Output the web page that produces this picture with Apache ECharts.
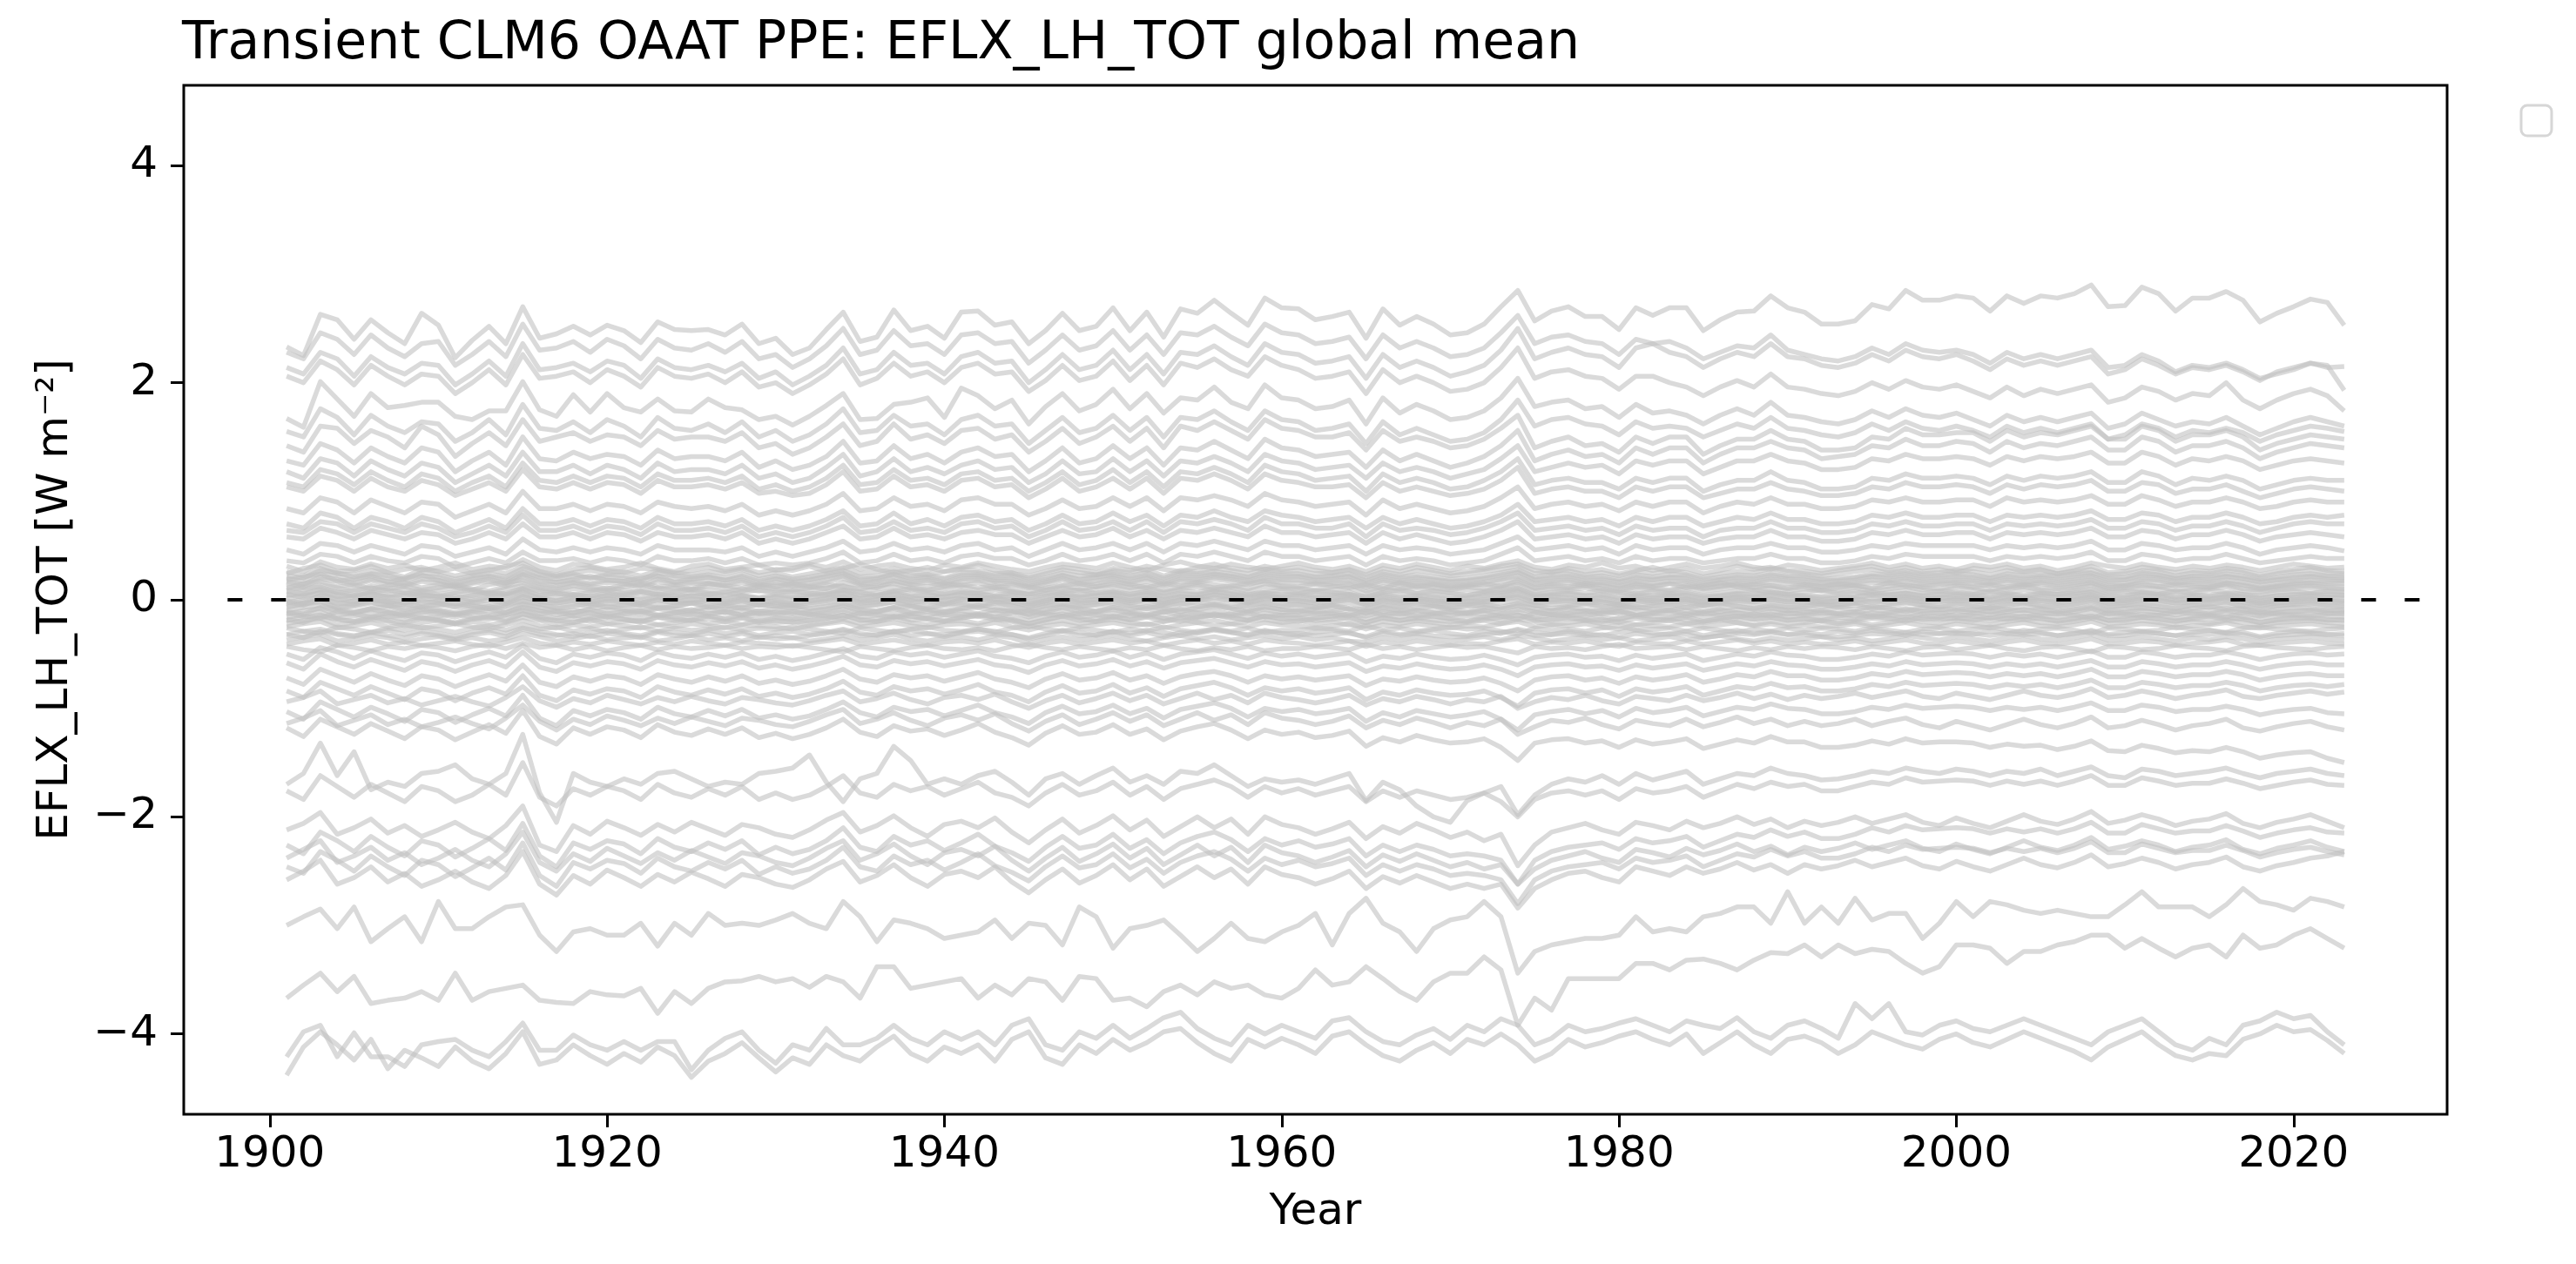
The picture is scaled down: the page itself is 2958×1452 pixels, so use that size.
<!DOCTYPE html>
<html>
<head>
<meta charset="utf-8">
<title>EFLX_LH_TOT global mean</title>
<script src="https://cdn.jsdelivr.net/npm/echarts@6/dist/echarts.min.js"></script>
<style>
html, body { margin: 0; padding: 0; background: #fff; }
#chart { width: 2958px; height: 1452px; }
</style>
</head>
<body>
<div id="chart"></div>
<script>
// ---- data -------------------------------------------------------------
// years of the transient run
var firstYear = 1901, lastYear = 2023;
var years = [];
for (var yr = firstYear; yr <= lastYear; yr++) years.push(yr);

var xTicks = [1900, 1920, 1940, 1960, 1980, 2000, 2020];
var yTicks = [-4, -2, 0, 2, 4];
var zeroLineYears = [1897.5, 2027.5];

// ensemble members, anomaly vs default, in 0.01 W m-2 (rows: 1901-30, 1931-60, 1961-90, 1991-2023)
// members above the central band
var u01 = [
233,225,263,258,240,258,246,236,264,253,223,239,252,236,270,241,245,252,244,253,248,237,256,249,248,249,244,254,236,241,
226,232,249,265,238,242,267,248,252,241,265,266,253,256,236,248,264,248,252,269,248,265,242,268,264,276,264,253,278,269,
268,258,261,265,241,268,253,261,254,244,246,254,270,285,257,266,270,261,261,249,269,262,269,269,248,258,265,266,280,269,
265,254,254,257,272,268,285,276,276,280,278,266,280,273,280,278,282,290,270,271,288,282,266,278,278,284,276,256,264,270,277,274,253];
var u02 = [
228,222,246,240,226,244,232,224,236,238,216,226,238,224,254,230,232,238,228,240,234,222,240,232,230,236,228,238,222,226,
214,222,234,250,226,230,248,234,236,226,244,246,236,238,218,230,244,230,234,248,230,244,226,246,244,252,242,234,254,246,
244,236,238,242,222,244,232,238,232,224,226,232,246,262,236,242,244,238,236,226,240,236,238,232,222,228,234,232,244,230,
226,222,220,224,232,226,236,230,228,230,226,218,228,222,226,222,226,230,214,216,226,220,210,216,214,218,212,204,208,212,218,214,215];
var u03 = [
214,208,228,222,206,224,214,208,218,216,198,208,220,206,236,212,214,218,210,220,216,204,222,214,212,216,210,218,204,210,
198,206,216,232,208,212,228,216,218,208,224,228,218,220,200,212,226,212,216,230,212,226,208,228,226,234,224,216,236,228,
226,218,220,224,204,226,214,220,214,206,210,216,230,250,222,228,232,226,224,214,232,236,228,224,214,222,228,224,236,224,
222,216,214,218,226,220,230,224,222,226,220,212,222,216,220,216,220,224,208,212,222,216,208,214,212,216,210,202,210,214,218,216,193];
var u04 = [
206,200,220,212,198,216,206,198,208,206,190,200,212,198,226,204,206,210,200,212,206,196,214,206,204,208,200,210,196,200,
190,198,208,222,198,204,218,206,210,200,214,218,208,210,192,202,216,202,206,220,202,216,198,218,214,222,212,206,224,216,
212,204,206,210,190,212,200,206,200,192,194,200,214,232,204,210,212,206,204,194,206,206,200,196,188,196,202,196,208,196,
194,190,188,192,200,194,202,196,194,198,192,186,196,188,194,190,194,198,182,186,196,192,184,190,188,200,184,176,184,190,194,188,174];
var u05 = [
167,159,201,185,169,190,177,179,182,182,169,166,174,174,201,175,169,189,173,190,177,173,185,174,173,185,177,175,166,169,
161,169,179,190,166,167,180,182,186,168,195,188,176,184,162,178,190,174,180,194,176,190,172,186,184,196,182,176,198,186,
184,176,178,184,162,186,172,180,174,166,168,174,186,204,178,182,184,176,178,168,180,172,174,170,162,170,176,170,182,170,
168,164,162,166,174,168,176,170,168,172,166,160,170,164,168,164,168,172,158,162,172,166,160,164,162,168,160,152,158,164,168,164,160];
var u06 = [
155,150,176,168,152,170,160,154,164,162,146,154,166,152,180,158,156,164,154,166,160,150,168,158,156,162,154,164,150,156,
146,152,162,176,154,156,170,160,162,152,166,170,160,162,144,156,168,154,158,170,156,168,150,168,166,174,164,156,174,166,
164,156,158,162,144,164,152,158,152,146,148,154,166,184,160,166,168,162,160,152,164,158,160,158,150,156,162,158,168,158,
156,152,150,154,162,156,164,158,156,160,156,150,160,154,158,154,158,162,148,152,162,158,150,156,154,158,154,146,152,156,160,158,155];
var u07 = [
142,136,160,158,144,156,150,140,160,152,132,144,154,142,166,146,150,154,146,152,150,142,156,148,150,150,146,154,140,144,
134,140,150,162,142,146,162,148,152,144,156,158,148,152,136,146,158,144,150,160,146,158,140,160,156,164,156,148,166,158,
156,150,150,154,138,156,146,150,146,140,142,148,158,170,140,146,150,142,144,136,150,144,150,150,134,142,148,148,156,148,
146,138,138,140,150,148,158,152,152,154,154,146,156,150,154,152,156,160,148,148,160,156,146,152,152,156,150,138,144,148,152,150,148];
var u08 = [
128,124,144,138,126,140,132,126,140,136,118,128,136,124,150,130,128,136,130,134,132,124,138,130,132,132,128,136,122,128,
120,124,132,146,126,128,142,130,134,126,136,140,132,134,118,128,140,126,130,142,130,140,124,140,138,146,138,130,148,140,
138,132,134,136,122,138,128,134,128,122,126,132,142,156,128,134,138,132,134,126,140,134,140,140,126,134,140,140,146,140,
138,130,132,134,142,140,148,142,142,146,144,136,146,140,144,142,146,150,138,138,150,146,136,142,142,146,140,130,136,140,144,142,140];
var u09 = [
118,112,130,126,114,128,120,114,126,122,108,116,124,114,136,118,118,124,116,124,120,112,126,118,120,120,116,124,112,116,
108,112,122,134,114,118,130,118,122,116,124,128,120,122,108,116,128,116,118,130,118,128,114,128,126,132,126,118,134,128,
126,120,122,124,112,126,118,122,118,112,116,120,130,142,118,122,126,122,124,116,128,124,128,128,116,122,128,128,134,128,
126,120,120,122,130,128,134,130,130,132,130,124,132,128,132,130,132,136,126,126,136,132,124,130,128,132,128,120,124,128,130,128,126];
var u10 = [
108,104,120,116,106,118,110,104,116,112,100,108,114,104,126,110,108,114,108,114,112,104,116,110,110,112,108,114,102,106,
100,104,112,124,106,108,120,110,112,106,116,118,110,112,100,108,118,106,110,120,108,118,104,118,116,122,116,108,124,118,
116,110,112,114,100,116,108,112,108,102,104,110,118,130,106,110,112,108,108,102,112,108,112,112,100,106,110,110,118,110,
108,102,102,104,112,110,116,112,112,114,112,106,114,110,114,112,114,118,108,108,118,114,106,112,110,114,110,102,106,110,112,110,110];
var u11 = [
104,100,114,110,100,112,104,100,110,106,96,102,108,100,120,104,102,108,102,108,106,98,110,104,104,106,102,108,98,100,
96,98,106,118,100,102,114,104,106,100,110,112,104,106,94,102,112,100,104,112,102,112,98,112,110,116,110,102,116,110,
108,104,104,106,94,108,100,104,100,96,98,102,110,122,98,102,104,100,100,94,104,100,104,104,94,98,102,102,108,102,
100,96,96,98,104,102,108,104,104,106,104,98,106,102,106,104,106,110,100,100,108,106,98,102,102,106,100,94,98,102,104,102,100];
var u12 = [
84,80,94,90,80,92,86,80,90,88,76,82,88,80,100,84,84,88,82,88,86,80,90,86,84,86,82,88,78,82,
78,82,88,98,82,84,94,86,88,82,92,94,88,88,78,84,92,84,86,94,86,94,82,94,92,96,92,86,98,92,
90,86,88,90,78,92,84,88,84,80,82,86,94,104,84,88,90,86,88,82,90,86,90,90,80,86,90,88,94,88,
88,84,84,86,92,90,94,90,90,92,92,86,94,90,92,90,92,96,88,88,96,92,86,90,90,94,90,84,86,90,92,90,90];
var u13 = [
70,66,80,76,66,76,72,66,76,72,62,68,74,66,84,70,70,74,68,74,72,66,76,70,70,72,68,74,64,68,
64,68,74,82,68,70,80,70,74,68,76,78,72,74,64,70,78,70,72,80,72,78,68,78,76,82,76,72,82,78,
76,72,74,76,66,76,70,74,70,66,68,72,78,88,72,74,76,72,74,68,76,72,76,76,68,72,76,74,80,74,
74,70,70,72,78,76,80,76,76,78,78,72,78,76,78,76,78,82,74,74,80,78,72,76,76,80,76,70,72,76,78,76,78];
var u14 = [
64,62,72,70,62,70,66,62,70,66,58,62,68,62,78,64,64,68,62,68,66,60,70,64,64,66,62,68,58,62,
58,62,68,76,62,64,72,64,66,62,70,72,66,68,58,64,72,64,66,72,64,72,62,72,70,74,70,64,76,70,
70,66,66,70,58,70,64,66,64,60,62,66,72,80,64,66,68,64,66,60,68,64,66,66,58,64,66,66,72,66,
66,62,62,64,70,68,72,68,68,70,70,64,70,68,70,68,70,74,66,66,72,70,64,68,68,72,68,62,66,70,72,70,70];
var u15 = [
58,56,66,62,56,64,60,56,62,60,52,56,62,56,70,58,58,62,56,62,60,54,62,58,58,60,56,62,52,56,
52,56,62,68,56,58,66,58,60,56,62,64,60,60,52,58,64,58,60,66,58,64,56,64,62,66,62,58,68,62,
62,58,60,62,52,62,56,60,56,52,54,58,64,72,56,58,60,56,58,52,60,56,58,58,52,56,58,58,64,58,
58,54,54,56,62,60,64,60,60,62,62,56,62,60,62,60,62,66,58,58,64,62,56,60,60,64,60,54,58,60,62,60,58];
var u16 = [
46,42,52,50,44,50,46,42,50,48,40,44,48,42,56,46,44,48,44,48,46,42,50,46,46,46,44,48,40,44,
40,44,48,54,44,46,52,46,48,44,50,52,46,48,40,46,52,46,48,52,46,52,44,52,50,54,50,46,54,50,
50,46,48,50,42,50,46,48,46,42,44,46,52,58,46,48,50,46,48,42,50,46,48,48,42,46,48,48,52,48,
48,44,44,46,50,48,52,50,50,50,50,46,50,48,50,48,50,54,46,46,52,50,46,48,48,52,48,42,46,48,50,48,45];
var u17 = [
36,34,42,40,34,40,36,34,40,38,30,34,38,34,44,36,36,38,34,38,36,32,40,36,36,38,34,38,32,34,
32,34,38,44,34,36,42,36,38,34,40,42,38,38,32,36,42,36,38,42,36,42,34,42,40,44,40,36,44,40,
40,36,38,40,32,40,36,38,36,32,34,36,42,48,36,38,40,36,38,34,40,36,38,38,34,36,38,38,42,38,
38,34,34,36,40,38,42,40,40,40,40,36,40,38,40,38,40,44,36,36,42,40,36,38,38,42,38,34,36,38,40,38,38];

// members in the dense band around zero
var b01 = [
31,26,35,30,28,33,29,32,27,30,34,28,31,29,37,30,27,33,31,28,30,34,29,26,31,33,28,30,32,27,
29,33,30,35,28,31,33,29,27,32,30,34,31,28,26,30,33,31,29,34,30,27,32,35,31,29,33,30,28,31,
34,30,28,31,26,32,29,33,30,27,31,29,33,36,30,28,32,30,34,29,31,27,30,33,29,31,34,30,28,32,
30,27,29,31,34,30,33,29,31,28,32,30,33,29,31,27,30,34,31,29,33,30,28,31,29,32,30,27,30,33,31,29,30];
var b02 = [
24,29,32,26,27,31,25,28,30,26,29,24,27,31,34,26,23,28,30,27,25,29,28,24,27,30,26,29,25,28,
27,31,26,29,33,28,25,27,30,26,29,32,27,24,22,26,30,28,25,29,27,31,28,26,30,33,29,27,31,28,
30,27,25,28,23,29,26,30,27,24,26,28,31,33,27,25,29,26,28,24,27,30,26,29,24,27,31,28,30,27,
26,24,27,29,31,27,30,26,28,25,29,27,30,26,28,24,27,31,25,26,30,28,25,27,26,29,27,23,26,28,30,27,26];
var b03 = [
26,22,29,24,23,27,25,21,28,26,22,25,28,24,31,26,22,25,27,24,26,22,27,25,23,26,24,28,22,25,
21,24,27,30,24,26,29,25,23,26,28,27,24,25,20,24,28,25,23,27,25,28,22,27,26,29,27,24,28,26,
27,24,25,27,21,26,23,27,25,22,24,26,28,31,24,26,27,23,25,22,26,24,27,25,21,24,26,25,29,26,
24,22,24,26,28,25,27,24,25,27,26,23,27,25,27,24,26,28,23,24,27,26,22,25,24,27,25,21,24,26,27,25,24];
var b04 = [
22,20,27,25,21,24,22,19,25,23,19,22,24,21,29,23,21,24,20,23,22,18,25,22,21,23,20,24,19,22,
19,21,24,27,21,22,26,22,23,20,25,25,22,23,18,21,25,22,23,25,22,25,20,25,24,26,24,21,26,24,
24,21,22,24,18,24,21,23,21,19,20,22,25,28,21,23,24,21,22,19,23,21,23,23,19,21,23,22,25,22,
22,19,20,21,24,23,25,22,23,24,23,20,24,22,23,22,24,25,21,21,25,23,20,22,22,24,22,19,21,23,24,22,22];
var b05 = [
20,17,24,22,18,23,20,18,22,21,17,20,22,19,26,21,19,22,20,21,20,17,22,20,19,21,18,22,17,20,
17,19,22,25,19,20,24,20,21,19,23,23,20,21,16,19,23,19,21,23,20,23,18,23,22,24,22,20,24,22,
22,20,21,22,17,22,19,21,19,17,18,20,23,26,19,21,22,19,20,17,21,19,21,21,17,19,21,20,23,21,
20,18,18,20,22,21,23,20,21,22,21,19,22,20,22,20,22,24,19,19,23,22,19,21,20,22,20,17,19,21,22,21,20];
var b06 = [
18,21,24,17,19,22,16,20,23,18,15,19,21,17,24,20,16,19,22,18,17,20,22,16,19,21,18,20,15,19,
16,18,21,24,17,19,23,18,20,16,21,22,18,19,14,17,22,18,20,22,18,21,16,21,20,23,21,18,22,20,
21,18,19,21,15,20,17,19,18,16,17,19,21,25,18,19,20,17,18,16,19,18,20,19,15,18,19,18,21,19,
18,16,17,18,21,19,21,18,19,20,19,17,20,18,20,18,20,22,17,18,21,20,17,19,18,21,19,16,18,19,21,19,18];
var b07 = [
17,14,21,19,15,19,17,14,19,18,13,16,19,15,23,17,16,18,15,18,17,13,19,16,16,17,15,18,13,16,
13,15,18,22,15,17,21,16,18,15,19,20,17,17,12,16,20,15,17,20,16,20,14,19,18,21,19,16,20,18,
18,16,17,18,13,18,15,17,15,13,14,16,19,22,15,17,18,15,16,13,17,15,17,17,13,15,17,16,19,17,
16,14,14,16,18,17,19,16,17,18,17,15,18,16,18,16,18,20,15,15,19,18,15,17,16,18,16,13,15,17,18,17,17];
var b08 = [
16,12,19,17,13,18,14,13,17,15,12,15,17,13,21,15,13,16,14,16,15,11,17,14,15,15,13,16,12,14,
12,13,16,20,14,15,18,14,16,13,17,18,15,15,11,14,18,14,15,18,14,17,13,17,16,19,17,14,18,16,
16,14,15,16,11,16,13,15,14,12,13,14,17,20,14,15,16,13,14,12,15,13,15,15,11,13,15,14,17,15,
14,12,13,14,16,15,17,14,15,16,15,13,16,14,16,14,16,18,13,13,17,16,13,15,14,16,14,11,13,15,16,15,15];
var b09 = [
11,15,17,12,14,10,13,16,11,14,12,9,14,16,18,13,11,15,12,10,14,16,12,13,10,15,13,11,14,12,
15,12,10,16,13,11,17,14,12,15,13,16,11,14,12,9,13,15,12,16,14,11,15,13,16,14,12,15,17,13,
12,15,13,11,14,10,16,12,14,11,13,15,12,18,11,14,12,15,13,10,14,12,15,11,13,16,12,14,13,11,
14,12,15,13,11,16,13,12,14,15,12,14,11,13,15,12,14,16,11,13,15,12,14,13,11,15,13,10,12,14,15,13,12];
var b10 = [
12,9,14,11,8,13,10,12,9,11,14,10,8,12,16,11,9,13,10,8,12,14,10,11,9,13,11,8,12,10,
9,11,14,12,10,13,15,11,9,12,14,11,13,10,7,11,13,10,12,14,11,13,9,12,14,11,13,10,15,12,
11,9,12,14,8,12,10,13,11,9,12,10,13,16,10,12,11,13,10,8,12,11,9,13,10,12,14,11,13,10,
12,9,11,13,10,12,14,11,10,13,11,9,12,14,11,10,12,15,10,11,13,12,9,11,12,14,10,9,11,12,13,11,10];
var b11 = [
8,11,12,7,9,11,8,10,7,9,11,8,6,10,13,9,7,10,8,11,9,7,11,8,10,9,7,10,8,9,
7,9,11,13,8,10,12,9,8,10,12,9,11,8,5,9,11,8,10,12,9,11,7,10,12,9,11,8,12,10,
10,8,9,11,6,10,8,11,9,7,9,8,11,14,8,10,9,11,8,6,10,9,8,11,8,10,12,9,11,8,
10,8,9,11,8,10,12,9,8,11,9,7,10,12,9,8,10,13,8,9,11,10,7,9,10,12,8,7,9,10,11,9,8];
var b12 = [
8,5,10,7,4,8,9,6,8,5,7,9,5,6,11,8,6,4,7,9,6,8,5,7,9,6,4,7,9,6,
8,6,5,9,7,4,8,10,7,5,8,6,9,7,5,6,8,9,6,7,5,8,6,9,7,10,8,5,7,9,
6,8,7,5,3,7,9,6,8,6,4,7,9,11,5,7,8,6,9,7,5,8,6,7,4,6,8,9,7,5,
7,9,6,8,5,7,9,6,8,7,5,8,6,9,7,5,8,10,6,8,7,5,8,6,9,7,5,4,7,8,6,8,7];
var b13 = [
4,6,9,5,3,7,4,6,5,3,6,4,7,5,10,4,6,5,3,6,4,7,5,3,6,5,7,4,2,5,
3,5,7,9,4,6,8,5,3,6,7,5,4,6,2,5,7,4,6,8,5,7,3,6,5,8,6,4,7,5,
6,4,5,7,2,6,4,6,5,3,4,6,7,10,4,5,6,4,5,2,6,4,5,6,3,4,6,5,7,5,
4,3,5,6,7,5,6,4,5,6,5,3,6,4,6,5,6,8,4,4,7,6,3,5,4,6,5,2,4,5,6,5,4];
var b14 = [
5,2,7,3,4,6,2,5,3,4,1,4,6,3,9,4,2,5,3,4,5,2,6,4,3,5,2,4,1,3,
2,4,5,8,3,4,7,3,5,2,6,6,3,4,0,3,6,3,4,7,3,6,2,5,4,7,5,3,6,4,
5,3,4,5,1,5,2,4,3,1,2,4,6,9,3,4,5,3,4,1,4,3,4,4,1,3,5,4,6,4,
3,2,2,3,5,4,6,3,4,5,4,2,5,3,5,3,5,7,2,3,6,5,2,4,3,5,3,1,3,4,5,4,4];
var b15 = [
1,4,6,0,2,5,3,1,4,2,3,0,2,5,7,2,-1,3,1,4,2,0,3,1,4,2,0,3,1,2,
0,2,4,6,1,3,5,2,0,3,4,1,3,2,-2,1,4,2,3,5,1,4,0,3,2,5,3,1,4,2,
3,1,2,4,-1,3,0,2,1,-1,1,2,4,7,1,3,2,0,2,-1,2,1,3,2,-1,1,3,2,4,2,
2,0,1,2,4,2,4,1,2,3,2,0,3,1,3,1,3,5,0,1,4,3,0,2,1,3,1,-1,1,2,3,2,2];
var b16 = [
-1,-3,4,1,-2,2,-1,-3,1,0,-4,-1,2,-2,5,0,-1,1,-2,1,0,-3,2,-1,-1,1,-2,1,-3,-1,
-3,-1,1,4,-1,0,3,0,1,-2,2,3,0,0,-4,-1,3,-1,0,3,-1,2,-2,2,1,4,2,-1,3,1,
1,-1,0,2,-3,1,-1,1,-1,-2,-2,0,2,5,-1,0,1,-1,0,-3,1,-1,1,0,-3,-1,1,0,2,0,
0,-2,-2,-1,1,0,2,0,1,1,1,-1,1,0,1,-1,1,3,-1,-1,2,1,-1,0,0,2,0,-3,-1,0,1,0,-1];
var b17 = [
-3,0,2,-4,-1,1,-2,0,-3,-1,1,-2,-4,0,3,-1,-3,0,-2,1,-1,-3,0,-2,1,-1,-3,0,-1,-2,
-4,-1,1,3,-2,0,2,-1,-3,0,1,-1,2,-2,-5,-1,1,-2,0,2,-1,1,-3,0,2,-1,1,-2,2,0,
-1,-3,-1,1,-4,0,-2,1,-1,-3,-1,-2,1,3,-2,0,-1,1,-2,-4,0,-1,-2,1,-2,0,2,-1,1,-2,
0,-2,-1,1,-2,0,2,-1,-2,1,-1,-3,0,2,-1,-2,0,3,-2,-1,1,0,-3,-1,0,2,-2,-3,-1,0,1,-1,-2];
var b18 = [
-2,-5,1,-3,-4,0,-2,-5,-1,-3,-6,-3,0,-4,3,-2,-3,-1,-4,-1,-2,-5,0,-3,-3,-1,-4,-1,-5,-3,
-5,-3,-1,2,-3,-2,1,-3,-1,-4,0,1,-2,-2,-6,-3,1,-3,-2,1,-3,0,-4,0,-1,2,0,-3,1,-1,
-1,-3,-2,0,-5,-1,-3,-1,-3,-4,-4,-2,0,2,-3,-2,-1,-3,-2,-5,-1,-3,-1,-2,-5,-3,-1,-2,0,-2,
-2,-4,-4,-3,-1,-2,0,-2,-1,-1,-1,-3,-1,-2,-1,-3,-1,1,-3,-3,0,-1,-3,-2,-2,0,-2,-5,-3,-2,-1,-2,-3];
var b19 = [
-6,-3,-1,-7,-5,-2,-6,-4,-7,-5,-3,-6,-8,-4,-1,-5,-7,-4,-6,-3,-5,-7,-4,-6,-3,-5,-7,-4,-5,-6,
-8,-5,-3,-1,-6,-4,-2,-5,-7,-4,-3,-5,-2,-6,-9,-5,-3,-6,-4,-2,-5,-3,-7,-4,-2,-5,-3,-6,-2,-4,
-5,-7,-5,-3,-8,-4,-6,-3,-5,-7,-5,-6,-3,-1,-6,-4,-5,-3,-6,-8,-4,-5,-6,-3,-6,-4,-2,-5,-3,-6,
-4,-6,-5,-3,-6,-4,-2,-5,-6,-3,-5,-7,-4,-2,-5,-6,-4,-1,-6,-5,-3,-4,-7,-5,-4,-2,-6,-7,-5,-4,-3,-5,-6];
var b20 = [
-7,-4,-2,-8,-6,-3,-5,-9,-6,-4,-7,-5,-8,-6,-1,-4,-8,-6,-3,-7,-5,-4,-8,-6,-3,-7,-5,-8,-4,-6,
-5,-8,-6,-3,-7,-5,-2,-6,-8,-5,-4,-7,-3,-5,-10,-6,-4,-7,-5,-3,-6,-8,-5,-3,-6,-4,-7,-5,-3,-6,
-4,-7,-5,-8,-9,-5,-7,-4,-6,-8,-6,-4,-7,-3,-5,-8,-6,-4,-7,-5,-8,-6,-4,-7,-5,-3,-6,-8,-5,-7,
-6,-4,-7,-5,-8,-6,-3,-5,-7,-4,-6,-8,-5,-3,-6,-7,-5,-2,-7,-6,-4,-6,-8,-5,-7,-4,-6,-9,-6,-5,-4,-6,-7];
var b21 = [
-10,-7,-5,-9,-11,-8,-6,-10,-7,-9,-12,-8,-6,-9,-4,-7,-10,-12,-8,-6,-9,-11,-7,-8,-10,-6,-9,-7,-11,-8,
-7,-10,-8,-5,-9,-11,-7,-6,-9,-10,-8,-5,-7,-10,-13,-9,-6,-8,-11,-7,-9,-6,-8,-11,-7,-5,-8,-10,-6,-9,
-11,-8,-6,-9,-12,-7,-10,-8,-6,-9,-11,-7,-9,-5,-8,-10,-7,-9,-11,-8,-6,-9,-10,-7,-11,-8,-6,-9,-7,-10,
-8,-10,-7,-9,-6,-8,-11,-7,-9,-8,-10,-7,-9,-6,-8,-11,-9,-6,-10,-8,-7,-9,-11,-8,-6,-9,-8,-12,-9,-7,-8,-10,-9];
var b22 = [
-11,-13,-7,-10,-12,-8,-11,-13,-9,-11,-14,-10,-8,-12,-5,-10,-11,-9,-12,-9,-10,-13,-8,-11,-11,-9,-12,-9,-13,-11,
-13,-11,-9,-6,-11,-10,-7,-11,-9,-12,-8,-7,-10,-10,-14,-11,-7,-11,-10,-7,-11,-8,-12,-8,-9,-6,-8,-11,-7,-9,
-9,-11,-10,-8,-13,-9,-11,-9,-11,-12,-12,-10,-8,-6,-11,-10,-9,-11,-10,-13,-9,-11,-9,-10,-13,-11,-9,-10,-8,-10,
-10,-12,-12,-11,-9,-10,-8,-10,-9,-9,-9,-11,-9,-10,-9,-11,-9,-7,-11,-11,-8,-9,-11,-10,-10,-8,-10,-13,-11,-10,-9,-10,-11];
var b23 = [
-13,-10,-8,-14,-12,-9,-11,-15,-12,-10,-13,-11,-14,-12,-7,-10,-14,-12,-9,-13,-11,-10,-14,-12,-9,-13,-11,-14,-10,-12,
-11,-14,-12,-9,-13,-11,-8,-12,-14,-11,-10,-13,-9,-11,-16,-12,-10,-13,-11,-9,-12,-14,-11,-9,-12,-10,-13,-11,-9,-12,
-10,-13,-11,-14,-15,-11,-13,-10,-12,-14,-12,-10,-13,-9,-11,-14,-12,-10,-13,-11,-14,-12,-10,-13,-11,-9,-12,-14,-11,-13,
-12,-10,-13,-11,-14,-12,-9,-11,-13,-10,-12,-14,-11,-9,-12,-13,-11,-8,-13,-12,-10,-12,-14,-11,-13,-10,-12,-15,-12,-11,-10,-12,-13];
var b24 = [
-12,-15,-17,-11,-13,-16,-12,-14,-11,-13,-16,-12,-10,-14,-9,-13,-11,-15,-12,-16,-13,-11,-15,-12,-14,-13,-11,-14,-12,-13,
-11,-13,-15,-17,-12,-14,-16,-13,-11,-14,-15,-13,-16,-12,-10,-13,-15,-12,-14,-16,-13,-15,-11,-14,-16,-13,-15,-12,-16,-14,
-14,-12,-13,-15,-10,-14,-12,-15,-13,-11,-13,-12,-15,-18,-12,-14,-13,-15,-12,-10,-14,-13,-12,-15,-12,-14,-16,-13,-15,-12,
-14,-12,-13,-15,-12,-14,-16,-13,-12,-15,-13,-11,-14,-16,-13,-12,-14,-17,-12,-13,-15,-14,-11,-13,-14,-16,-12,-11,-13,-14,-15,-13,-12];
var b25 = [
-16,-14,-11,-17,-15,-12,-16,-14,-17,-15,-13,-16,-18,-14,-10,-15,-17,-14,-16,-13,-15,-17,-14,-16,-13,-15,-17,-14,-15,-16,
-18,-15,-13,-11,-16,-14,-12,-15,-17,-14,-13,-15,-12,-16,-19,-15,-13,-16,-14,-12,-15,-13,-17,-14,-12,-15,-13,-16,-12,-14,
-15,-17,-15,-13,-18,-14,-16,-13,-15,-17,-15,-16,-13,-11,-16,-14,-15,-13,-16,-18,-14,-15,-16,-13,-16,-14,-12,-15,-13,-16,
-14,-16,-15,-13,-16,-14,-12,-15,-16,-13,-15,-17,-14,-12,-15,-16,-14,-11,-16,-15,-13,-14,-17,-15,-14,-12,-16,-17,-15,-14,-13,-15,-16];
var b26 = [
-19,-16,-14,-18,-20,-17,-15,-19,-16,-18,-21,-17,-15,-18,-13,-16,-19,-21,-17,-15,-18,-20,-16,-17,-19,-15,-18,-16,-20,-17,
-16,-19,-17,-14,-18,-20,-16,-15,-18,-19,-17,-14,-16,-19,-22,-18,-15,-17,-20,-16,-18,-15,-17,-20,-16,-14,-17,-19,-15,-18,
-20,-17,-15,-18,-21,-16,-19,-17,-15,-18,-20,-16,-18,-14,-17,-19,-16,-18,-20,-17,-15,-18,-19,-16,-20,-17,-15,-18,-16,-19,
-17,-19,-16,-18,-15,-17,-20,-16,-18,-17,-19,-16,-18,-15,-17,-20,-18,-15,-19,-17,-16,-18,-20,-17,-15,-18,-17,-21,-18,-16,-17,-19,-18];
var b27 = [
-18,-21,-15,-18,-20,-16,-19,-21,-17,-19,-22,-18,-16,-20,-13,-18,-19,-17,-20,-17,-18,-21,-16,-19,-19,-17,-20,-17,-21,-19,
-21,-19,-17,-14,-19,-18,-15,-19,-17,-20,-16,-15,-18,-18,-22,-19,-15,-19,-18,-15,-19,-16,-20,-16,-17,-14,-16,-19,-15,-17,
-17,-19,-18,-16,-21,-17,-19,-17,-19,-20,-20,-18,-16,-14,-19,-18,-17,-19,-18,-21,-17,-19,-17,-18,-21,-19,-17,-18,-16,-18,
-18,-20,-20,-19,-17,-18,-16,-18,-17,-17,-17,-19,-17,-18,-17,-19,-17,-15,-19,-19,-16,-17,-19,-18,-18,-16,-18,-21,-19,-18,-17,-18,-19];
var b28 = [
-22,-19,-17,-23,-21,-18,-20,-24,-21,-19,-22,-20,-23,-21,-16,-19,-23,-21,-18,-22,-20,-19,-23,-21,-18,-22,-20,-23,-19,-21,
-20,-23,-21,-18,-22,-20,-17,-21,-23,-20,-19,-22,-18,-20,-25,-21,-19,-22,-20,-18,-21,-23,-20,-18,-21,-19,-22,-20,-18,-21,
-19,-22,-20,-23,-24,-20,-22,-19,-21,-23,-21,-19,-22,-18,-20,-23,-21,-19,-22,-20,-23,-21,-19,-22,-20,-18,-21,-23,-20,-22,
-21,-19,-22,-20,-23,-21,-18,-20,-22,-19,-21,-23,-20,-18,-21,-22,-20,-17,-22,-21,-19,-21,-23,-20,-22,-19,-21,-24,-21,-20,-19,-21,-22];
var b29 = [
-25,-22,-20,-26,-24,-21,-25,-23,-26,-24,-22,-25,-27,-23,-19,-24,-26,-23,-25,-22,-24,-26,-23,-25,-22,-24,-26,-23,-24,-25,
-27,-24,-22,-20,-25,-23,-21,-24,-26,-23,-22,-24,-21,-25,-28,-24,-22,-25,-23,-21,-24,-22,-26,-23,-21,-24,-22,-25,-21,-23,
-24,-26,-24,-22,-27,-23,-25,-22,-24,-26,-24,-25,-22,-20,-25,-23,-24,-22,-25,-27,-23,-24,-25,-22,-25,-23,-21,-24,-22,-25,
-23,-25,-24,-22,-25,-23,-21,-24,-25,-22,-24,-26,-23,-21,-24,-25,-23,-20,-25,-24,-22,-23,-26,-24,-23,-21,-25,-26,-24,-23,-22,-24,-25];
var b30 = [
-26,-29,-31,-25,-27,-30,-26,-28,-25,-27,-30,-26,-24,-28,-23,-27,-25,-29,-26,-30,-27,-25,-29,-26,-28,-27,-25,-28,-26,-27,
-25,-27,-29,-31,-26,-28,-30,-27,-25,-28,-29,-27,-30,-26,-24,-27,-29,-26,-28,-30,-27,-29,-25,-28,-30,-27,-29,-26,-30,-28,
-28,-26,-27,-29,-24,-28,-26,-29,-27,-25,-27,-26,-29,-32,-26,-28,-27,-29,-26,-24,-28,-27,-26,-29,-26,-28,-30,-27,-29,-26,
-28,-26,-27,-29,-26,-28,-30,-27,-26,-29,-27,-25,-28,-30,-27,-26,-28,-31,-26,-27,-29,-28,-25,-27,-28,-30,-26,-25,-27,-28,-29,-27,-26];
var b31 = [
-32,-29,-27,-31,-33,-30,-28,-32,-29,-31,-34,-30,-28,-31,-26,-29,-32,-34,-30,-28,-31,-33,-29,-30,-32,-28,-31,-29,-33,-30,
-29,-32,-30,-27,-31,-33,-29,-28,-31,-32,-30,-27,-29,-32,-35,-31,-28,-30,-33,-29,-31,-28,-30,-33,-29,-27,-30,-32,-28,-31,
-33,-30,-28,-31,-34,-29,-32,-30,-28,-31,-33,-29,-31,-27,-30,-32,-29,-31,-33,-30,-28,-31,-32,-29,-33,-30,-28,-31,-29,-32,
-30,-32,-29,-31,-28,-30,-33,-29,-31,-30,-32,-29,-31,-28,-30,-33,-31,-28,-32,-30,-29,-31,-33,-30,-28,-31,-30,-34,-31,-29,-30,-32,-31];
var b32 = [
-32,-35,-29,-32,-34,-30,-33,-35,-31,-33,-36,-32,-30,-34,-27,-32,-33,-31,-34,-31,-32,-35,-30,-33,-33,-31,-34,-31,-35,-33,
-35,-33,-31,-28,-33,-32,-29,-33,-31,-34,-30,-29,-32,-32,-36,-33,-29,-33,-32,-29,-33,-30,-34,-30,-31,-28,-30,-33,-29,-31,
-31,-33,-32,-30,-35,-31,-33,-31,-33,-34,-34,-32,-30,-28,-33,-32,-31,-33,-32,-35,-31,-33,-31,-32,-35,-33,-31,-32,-30,-32,
-32,-34,-34,-33,-31,-32,-30,-32,-31,-31,-31,-33,-31,-32,-31,-33,-31,-29,-33,-33,-30,-31,-33,-32,-32,-30,-32,-35,-33,-32,-31,-32,-33];
var b33 = [
-37,-34,-32,-38,-36,-33,-35,-39,-36,-34,-37,-35,-38,-36,-31,-34,-38,-36,-33,-37,-35,-34,-38,-36,-33,-37,-35,-38,-34,-36,
-35,-38,-36,-33,-37,-35,-32,-36,-38,-35,-34,-37,-33,-35,-40,-36,-34,-37,-35,-33,-36,-38,-35,-33,-36,-34,-37,-35,-33,-36,
-34,-37,-35,-38,-39,-35,-37,-34,-36,-38,-36,-34,-37,-33,-35,-38,-36,-34,-37,-35,-38,-36,-34,-37,-35,-33,-36,-38,-35,-37,
-36,-34,-37,-35,-38,-36,-33,-35,-37,-34,-36,-38,-35,-33,-36,-37,-35,-32,-37,-36,-34,-36,-38,-35,-37,-34,-36,-39,-36,-35,-34,-36,-37];
var b34 = [
-41,-38,-36,-42,-40,-37,-41,-39,-42,-40,-38,-41,-43,-39,-35,-40,-42,-39,-41,-38,-40,-42,-39,-41,-38,-40,-42,-39,-40,-41,
-43,-40,-38,-36,-41,-39,-37,-40,-42,-39,-38,-40,-37,-41,-44,-40,-38,-41,-39,-37,-40,-38,-42,-39,-37,-40,-38,-41,-37,-39,
-40,-42,-40,-38,-43,-39,-41,-38,-40,-42,-40,-41,-38,-36,-41,-39,-40,-38,-41,-43,-39,-40,-41,-38,-41,-39,-37,-40,-38,-41,
-39,-41,-40,-38,-41,-39,-37,-40,-41,-38,-40,-42,-39,-37,-40,-41,-39,-36,-41,-40,-38,-39,-42,-40,-39,-37,-41,-42,-40,-39,-38,-40,-41];
var b35 = [
-43,-46,-48,-42,-44,-47,-43,-45,-42,-44,-47,-43,-41,-45,-40,-44,-42,-46,-43,-47,-44,-42,-46,-43,-45,-44,-42,-45,-43,-44,
-42,-44,-46,-48,-43,-45,-47,-44,-42,-45,-46,-44,-47,-43,-41,-44,-46,-43,-45,-47,-44,-46,-42,-45,-47,-44,-46,-43,-47,-45,
-45,-43,-44,-46,-41,-45,-43,-46,-44,-42,-44,-43,-46,-49,-43,-45,-44,-46,-43,-41,-45,-44,-43,-46,-43,-45,-47,-44,-46,-43,
-45,-43,-44,-46,-43,-45,-47,-44,-43,-46,-44,-42,-45,-47,-44,-43,-45,-48,-43,-44,-46,-45,-42,-44,-45,-47,-43,-42,-44,-45,-46,-44,-43];

// members below the central band
var l01 = [
-50,-55,-44,-48,-54,-47,-52,-56,-49,-51,-57,-52,-48,-53,-42,-54,-58,-50,-53,-49,-51,-56,-48,-52,-54,-50,-53,-49,-55,-52,
-56,-53,-49,-45,-52,-54,-48,-51,-49,-53,-50,-47,-52,-54,-58,-52,-48,-53,-51,-47,-53,-49,-55,-50,-48,-46,-50,-54,-49,-52,
-50,-53,-51,-49,-57,-52,-54,-50,-53,-55,-54,-51,-55,-60,-53,-51,-50,-53,-52,-56,-51,-54,-52,-50,-56,-53,-50,-52,-48,-51,
-52,-55,-55,-53,-50,-52,-48,-51,-50,-49,-50,-53,-50,-52,-50,-53,-50,-47,-53,-53,-48,-50,-53,-51,-51,-48,-51,-55,-52,-50,-49,-51,-50];
var l02 = [
-58,-64,-50,-57,-62,-55,-60,-65,-57,-60,-66,-60,-56,-62,-48,-62,-66,-58,-61,-57,-59,-64,-56,-60,-62,-58,-61,-57,-63,-60,
-64,-61,-57,-52,-60,-62,-56,-59,-57,-61,-58,-55,-60,-62,-67,-60,-56,-61,-59,-55,-61,-57,-63,-58,-56,-54,-58,-62,-57,-60,
-59,-62,-60,-58,-66,-61,-63,-59,-62,-64,-63,-60,-64,-70,-62,-60,-59,-62,-61,-65,-60,-63,-61,-59,-65,-62,-59,-61,-57,-60,
-61,-64,-64,-62,-59,-61,-57,-60,-59,-58,-59,-62,-59,-61,-59,-62,-59,-56,-62,-62,-57,-59,-62,-60,-60,-57,-60,-64,-61,-59,-58,-60,-60];
var l03 = [
-72,-78,-64,-70,-76,-68,-74,-79,-70,-73,-80,-74,-69,-75,-60,-76,-80,-71,-75,-70,-72,-78,-69,-73,-76,-71,-75,-70,-77,-74,
-78,-75,-70,-64,-73,-76,-69,-72,-70,-75,-71,-67,-73,-76,-81,-73,-68,-74,-72,-67,-74,-70,-77,-71,-68,-66,-70,-76,-70,-73,
-71,-74,-72,-70,-79,-73,-75,-71,-74,-76,-75,-72,-77,-84,-74,-71,-70,-74,-72,-77,-71,-74,-72,-69,-76,-73,-69,-71,-66,-70,
-70,-74,-74,-72,-68,-70,-66,-69,-68,-67,-68,-71,-68,-70,-68,-71,-68,-64,-71,-71,-66,-68,-71,-69,-69,-66,-69,-74,-71,-69,-68,-70,-70];
var l04 = [
-84,-90,-76,-82,-88,-80,-86,-92,-82,-85,-93,-86,-81,-87,-70,-88,-93,-83,-87,-82,-84,-90,-80,-85,-88,-83,-87,-82,-89,-86,
-90,-87,-82,-75,-85,-88,-80,-84,-82,-87,-83,-78,-85,-88,-94,-85,-79,-86,-84,-78,-86,-81,-89,-82,-79,-76,-81,-88,-81,-84,
-82,-86,-84,-81,-92,-85,-88,-83,-86,-88,-87,-84,-90,-98,-86,-83,-82,-86,-83,-89,-82,-85,-83,-80,-88,-84,-80,-82,-77,-81,
-80,-84,-84,-82,-78,-80,-76,-79,-78,-77,-78,-81,-78,-80,-78,-81,-78,-74,-81,-81,-76,-78,-81,-79,-79,-76,-79,-84,-81,-79,-78,-80,-78];
var l05 = [
-94,-90,-84,-96,-92,-88,-95,-91,-97,-93,-89,-94,-98,-90,-80,-93,-99,-91,-95,-88,-92,-96,-90,-94,-89,-93,-96,-90,-92,-95,
-97,-93,-88,-84,-94,-91,-86,-92,-96,-90,-88,-92,-87,-94,-100,-93,-88,-95,-91,-86,-93,-88,-96,-91,-86,-92,-88,-95,-86,-90,
-92,-95,-92,-88,-97,-91,-94,-89,-92,-96,-92,-94,-89,-100,-94,-90,-92,-88,-93,-96,-89,-91,-93,-88,-93,-90,-86,-91,-87,-92,
-88,-91,-89,-86,-90,-87,-84,-89,-91,-86,-89,-92,-88,-84,-88,-90,-87,-82,-90,-88,-84,-87,-91,-88,-86,-83,-89,-91,-88,-86,-84,-87,-85];
var l06 = [
-103,-110,-94,-101,-108,-99,-105,-112,-101,-104,-113,-106,-100,-107,-88,-109,-116,-102,-107,-101,-104,-110,-99,-105,-108,-102,-107,-101,-109,-106,
-110,-107,-101,-94,-104,-108,-99,-103,-101,-107,-102,-97,-104,-108,-114,-104,-98,-105,-103,-97,-105,-100,-109,-101,-98,-95,-100,-108,-100,-103,
-101,-105,-103,-100,-112,-104,-108,-102,-105,-108,-106,-103,-110,-120,-106,-103,-101,-105,-102,-108,-100,-104,-102,-99,-107,-103,-99,-101,-96,-100,
-101,-105,-105,-103,-99,-101,-97,-100,-99,-98,-99,-102,-99,-101,-99,-102,-99,-95,-102,-102,-97,-99,-103,-101,-101,-98,-101,-106,-103,-101,-100,-104,-105];
var l07 = [
-114,-109,-102,-116,-111,-106,-115,-110,-117,-113,-108,-114,-119,-109,-97,-112,-120,-110,-115,-107,-111,-116,-109,-114,-108,-112,-116,-109,-111,-115,
-117,-112,-106,-101,-114,-110,-104,-111,-116,-109,-106,-111,-105,-114,-121,-112,-106,-115,-110,-104,-112,-106,-116,-110,-104,-111,-106,-115,-104,-109,
-111,-115,-112,-107,-118,-111,-115,-109,-113,-118,-113,-116,-110,-124,-117,-111,-113,-109,-115,-119,-111,-114,-116,-110,-117,-113,-108,-114,-110,-116,
-112,-116,-114,-110,-116,-112,-109,-115,-118,-112,-116,-120,-115,-110,-115,-118,-114,-108,-118,-116,-111,-115,-120,-116,-114,-110,-118,-121,-117,-114,-112,-117,-120];
var l08 = [
-118,-126,-110,-117,-124,-114,-121,-128,-117,-120,-129,-122,-115,-123,-102,-126,-133,-118,-124,-117,-120,-127,-115,-122,-125,-119,-124,-118,-127,-123,
-128,-124,-118,-110,-122,-126,-116,-121,-119,-125,-120,-114,-122,-127,-134,-123,-116,-124,-122,-115,-124,-119,-129,-121,-117,-114,-120,-128,-120,-124,
-122,-127,-125,-121,-135,-127,-131,-125,-129,-132,-131,-128,-136,-148,-132,-129,-128,-132,-130,-136,-129,-133,-131,-128,-137,-133,-129,-132,-126,-131,
-131,-136,-136,-134,-130,-133,-128,-132,-131,-131,-132,-136,-133,-135,-134,-138,-135,-130,-139,-140,-134,-137,-141,-139,-140,-136,-140,-146,-143,-141,-140,-146,-150];
var l09 = [
-170,-160,-132,-162,-140,-175,-168,-172,-160,-158,-152,-165,-170,-160,-124,-178,-205,-160,-168,-172,-165,-170,-160,-158,-165,-172,-168,-170,-160,-158,
-155,-143,-168,-186,-165,-160,-135,-148,-170,-165,-170,-162,-158,-168,-180,-165,-160,-170,-162,-155,-168,-162,-170,-158,-160,-152,-162,-172,-165,-168,
-166,-170,-165,-160,-185,-168,-175,-190,-200,-205,-185,-178,-172,-198,-180,-170,-165,-168,-162,-170,-160,-166,-162,-158,-170,-165,-160,-162,-155,-160,
-162,-166,-165,-162,-158,-160,-155,-158,-160,-156,-158,-162,-158,-160,-156,-162,-158,-154,-162,-164,-156,-158,-162,-160,-158,-155,-160,-164,-160,-158,-156,-160,-162];
var l10 = [
-176,-184,-162,-172,-182,-170,-178,-186,-172,-176,-186,-180,-170,-180,-150,-182,-190,-174,-180,-172,-176,-184,-170,-178,-182,-174,-180,-172,-184,-178,
-184,-180,-172,-162,-178,-182,-170,-176,-172,-180,-174,-168,-178,-182,-190,-178,-170,-180,-176,-168,-180,-172,-184,-174,-170,-166,-172,-182,-172,-178,
-174,-180,-176,-172,-186,-176,-182,-176,-180,-184,-182,-178,-186,-200,-184,-178,-176,-180,-176,-184,-174,-178,-176,-172,-182,-176,-170,-174,-168,-172,
-170,-176,-176,-172,-168,-170,-164,-168,-167,-166,-167,-171,-167,-170,-167,-171,-167,-162,-171,-171,-164,-167,-171,-169,-169,-165,-169,-174,-171,-168,-166,-170,-171];
var l11 = [
-212,-206,-196,-216,-210,-202,-215,-208,-218,-212,-205,-214,-220,-208,-190,-226,-232,-208,-216,-204,-210,-217,-207,-214,-205,-211,-217,-207,-210,-216,
-219,-212,-203,-196,-214,-208,-199,-210,-218,-207,-204,-210,-201,-214,-224,-212,-202,-215,-208,-199,-212,-203,-218,-209,-200,-210,-202,-216,-200,-207,
-210,-216,-211,-205,-220,-209,-215,-206,-212,-219,-214,-222,-216,-245,-226,-214,-210,-206,-212,-216,-205,-208,-212,-204,-210,-206,-200,-207,-202,-210,
-204,-208,-205,-200,-206,-202,-198,-205,-208,-201,-206,-210,-204,-198,-204,-207,-202,-195,-206,-203,-198,-202,-208,-204,-202,-197,-206,-210,-205,-202,-198,-204,-210];
var l12 = [
-226,-234,-214,-222,-232,-218,-228,-236,-222,-226,-237,-229,-220,-231,-206,-236,-246,-224,-230,-222,-225,-234,-220,-228,-232,-224,-230,-222,-235,-228,
-234,-230,-222,-210,-228,-232,-218,-226,-222,-231,-224,-216,-227,-233,-241,-228,-218,-229,-226,-216,-229,-221,-234,-224,-218,-214,-221,-232,-220,-226,
-222,-228,-225,-220,-236,-226,-232,-226,-230,-236,-234,-236,-240,-262,-240,-232,-228,-226,-224,-230,-220,-224,-222,-218,-228,-222,-216,-219,-212,-218,
-214,-220,-220,-216,-210,-214,-208,-212,-211,-210,-211,-215,-211,-214,-211,-215,-211,-205,-215,-215,-207,-211,-215,-213,-213,-208,-213,-219,-215,-212,-210,-214,-215];
var l13 = [
-238,-230,-222,-242,-236,-228,-240,-233,-244,-238,-230,-240,-246,-234,-214,-242,-250,-234,-241,-229,-236,-243,-233,-240,-231,-237,-243,-233,-236,-242,
-245,-238,-229,-222,-240,-234,-225,-236,-244,-233,-230,-236,-227,-240,-250,-238,-228,-241,-234,-225,-238,-229,-244,-235,-226,-236,-228,-242,-226,-233,
-236,-242,-237,-231,-246,-235,-241,-234,-240,-246,-242,-248,-244,-262,-248,-240,-236,-232,-238,-242,-230,-233,-237,-229,-235,-231,-225,-232,-227,-235,
-228,-232,-229,-224,-230,-226,-222,-229,-232,-225,-230,-234,-228,-222,-228,-231,-226,-219,-230,-227,-222,-226,-232,-228,-226,-221,-230,-234,-229,-226,-222,-228,-232];
var l14 = [
-246,-252,-232,-240,-250,-236,-246,-254,-240,-244,-255,-247,-238,-249,-224,-254,-264,-242,-248,-240,-243,-252,-238,-246,-250,-242,-248,-240,-253,-246,
-252,-248,-240,-228,-246,-250,-236,-244,-240,-249,-242,-234,-245,-251,-259,-246,-236,-247,-244,-234,-247,-239,-252,-242,-236,-232,-239,-250,-238,-244,
-240,-246,-243,-238,-254,-244,-250,-244,-248,-254,-252,-254,-258,-280,-258,-250,-246,-244,-242,-248,-238,-242,-240,-236,-246,-240,-234,-237,-230,-236,
-232,-238,-238,-234,-228,-232,-226,-230,-229,-228,-229,-233,-229,-232,-229,-233,-229,-223,-233,-233,-225,-229,-233,-231,-231,-226,-231,-237,-233,-230,-228,-232,-235];
var l15 = [
-258,-250,-240,-262,-256,-246,-260,-252,-264,-258,-250,-260,-266,-254,-232,-262,-272,-254,-262,-249,-256,-264,-253,-260,-251,-257,-264,-253,-256,-262,
-265,-258,-248,-241,-260,-254,-244,-256,-264,-253,-250,-256,-246,-260,-270,-258,-248,-261,-254,-244,-258,-248,-264,-255,-246,-256,-248,-262,-246,-253,
-256,-262,-257,-250,-266,-255,-261,-254,-260,-266,-262,-266,-262,-284,-266,-258,-252,-250,-256,-260,-246,-250,-254,-246,-252,-248,-242,-249,-244,-252,
-244,-248,-245,-240,-246,-242,-238,-245,-248,-241,-246,-250,-244,-238,-244,-247,-242,-235,-246,-243,-238,-242,-248,-244,-242,-237,-246,-250,-245,-242,-238,-236,-232];
var l16 = [
-300,-292,-285,-303,-283,-315,-303,-292,-315,-278,-303,-303,-292,-283,-281,-309,-324,-306,-303,-309,-309,-298,-319,-298,-309,-289,-300,-298,-300,-295,
-289,-298,-303,-278,-292,-315,-295,-298,-303,-312,-309,-306,-295,-312,-298,-300,-318,-283,-292,-321,-303,-300,-295,-309,-324,-312,-298,-312,-315,-306,
-300,-289,-318,-289,-275,-298,-306,-324,-303,-295,-292,-278,-292,-344,-324,-318,-315,-312,-312,-309,-292,-306,-303,-306,-292,-289,-283,-283,-298,-269,
-298,-283,-298,-275,-295,-289,-289,-312,-298,-278,-292,-278,-281,-286,-289,-286,-289,-292,-292,-281,-269,-283,-283,-283,-292,-281,-266,-278,-281,-286,-275,-278,-283];
var l17 = [
-367,-355,-344,-361,-347,-372,-369,-367,-361,-369,-344,-369,-361,-358,-355,-369,-371,-372,-361,-364,-365,-358,-381,-361,-372,-358,-352,-351,-347,-352,
-349,-357,-347,-352,-367,-338,-338,-358,-355,-352,-349,-367,-355,-364,-349,-352,-369,-347,-349,-369,-367,-375,-361,-355,-364,-352,-358,-355,-364,-367,
-358,-341,-355,-352,-338,-349,-361,-369,-352,-344,-344,-329,-341,-392,-367,-378,-349,-349,-349,-349,-335,-335,-341,-332,-331,-335,-341,-332,-325,-326,
-318,-329,-318,-326,-322,-324,-335,-344,-338,-318,-318,-321,-335,-324,-324,-318,-315,-309,-309,-321,-312,-321,-329,-321,-318,-329,-309,-321,-318,-309,-303,-312,-321];
var l18 = [
-421,-398,-392,-421,-399,-421,-421,-430,-410,-407,-405,-415,-421,-407,-390,-415,-415,-401,-410,-415,-407,-415,-407,-407,-433,-415,-404,-398,-415,-427,
-410,-415,-395,-410,-410,-404,-392,-404,-410,-398,-405,-398,-410,-392,-386,-410,-415,-398,-404,-392,-404,-395,-385,-380,-395,-404,-410,-392,-400,-392,
-398,-404,-388,-385,-398,-407,-410,-401,-395,-405,-392,-398,-386,-392,-410,-404,-392,-398,-395,-390,-386,-392,-398,-388,-392,-395,-385,-398,-404,-392,
-388,-395,-404,-372,-386,-372,-398,-401,-392,-388,-395,-398,-392,-386,-392,-398,-404,-410,-398,-392,-386,-398,-410,-415,-404,-410,-392,-388,-380,-386,-383,-398,-410];
var l19 = [
-438,-412,-398,-410,-424,-405,-432,-415,-422,-430,-412,-425,-432,-418,-398,-428,-424,-410,-420,-428,-418,-426,-412,-420,-440,-425,-418,-408,-422,-435,
-422,-428,-410,-420,-425,-412,-402,-418,-425,-412,-418,-410,-425,-405,-398,-422,-428,-410,-418,-405,-415,-408,-398,-395,-408,-418,-425,-405,-412,-404,
-410,-418,-402,-398,-410,-420,-425,-415,-408,-418,-405,-410,-400,-410,-425,-418,-405,-412,-408,-402,-398,-405,-410,-400,-418,-408,-398,-410,-418,-405,
-402,-408,-418,-410,-398,-404,-410,-414,-405,-400,-408,-412,-405,-398,-404,-410,-416,-424,-412,-405,-398,-410,-420,-424,-418,-420,-405,-400,-392,-398,-396,-406,-418];

var upperRuns = [u01,u02,u03,u04,u05,u06,u07,u08,u09,u10,u11,u12,u13,u14,u15,u16,u17];
var bandRuns = [b01,b02,b03,b04,b05,b06,b07,b08,b09,b10,b11,b12,b13,b14,b15,b16,b17,b18,
                b19,b20,b21,b22,b23,b24,b25,b26,b27,b28,b29,b30,b31,b32,b33,b34,b35];
var lowerRuns = [l01,l02,l03,l04,l05,l06,l07,l08,l09,l10,l11,l12,l13,l14,l15,l16,l17,l18,l19];

// ---- chart ------------------------------------------------------------
var FONT = 'DejaVu Sans';
var runColor = '#c2c2c2';

function toPoints(run) {
  return run.slice(0, years.length).map(function (v, i) { return [years[i], v / 100]; });
}

function minusSign(v) {
  return String(v).replace('-', '\u2212');
}

var series = [];
upperRuns.concat(bandRuns, lowerRuns).forEach(function (run) {
  series.push({
    type: 'line',
    data: toPoints(run),
    showSymbol: false,
    symbol: 'none',
    silent: true,
    z: 2,
    lineStyle: { color: runColor, width: 5.5, opacity: 0.6, join: 'round' }
  });
});
// dashed zero reference
series.push({
  type: 'line',
  data: zeroLineYears.map(function (y) { return [y, 0]; }),
  showSymbol: false,
  symbol: 'none',
  silent: true,
  z: 5,
  lineStyle: { color: '#000', width: 3.8, type: [17, 33] }
});

var chart = echarts.init(document.getElementById('chart'));
chart.setOption({
  animation: false,
  backgroundColor: '#fff',
  title: {
    text: 'Transient CLM6 OAAT PPE: EFLX_LH_TOT global mean',
    left: 204,
    top: 16,
    textStyle: { fontFamily: FONT, fontSize: 60, fontWeight: 'normal', color: '#000' }
  },
  grid: {
    left: 211, right: 148, top: 98, bottom: 172,
    show: true, borderColor: '#000', borderWidth: 3, backgroundColor: 'transparent'
  },
  xAxis: {
    type: 'value',
    min: 1894.9, max: 2029.1,
    axisLine: { show: false, onZero: false },
    splitLine: { show: false },
    axisTick: { show: true, length: 15, customValues: xTicks, lineStyle: { color: '#000', width: 3 } },
    axisLabel: {
      customValues: xTicks, margin: 22, fontFamily: FONT, fontSize: 50, color: '#000',
      formatter: function (v) { return String(v); }
    },
    name: 'Year',
    nameLocation: 'middle',
    nameGap: 88,
    nameTextStyle: { fontFamily: FONT, fontSize: 50, color: '#000' }
  },
  yAxis: {
    type: 'value',
    min: -4.74, max: 4.74,
    axisLine: { show: false, onZero: false },
    splitLine: { show: false },
    axisTick: { show: true, length: 15, customValues: yTicks, lineStyle: { color: '#000', width: 3 } },
    axisLabel: { customValues: yTicks, margin: 30, fontFamily: FONT, fontSize: 50, color: '#000', formatter: minusSign },
    name: 'EFLX_LH_TOT [W m\u207b\u00b2]',
    nameLocation: 'middle',
    nameGap: 122,
    nameRotate: 90,
    nameTextStyle: { fontFamily: FONT, fontSize: 50, color: '#000' }
  },
  graphic: [{
    // empty legend frame to the right of the axes
    type: 'rect',
    shape: { x: 2895, y: 121, width: 35, height: 35, r: 7 },
    style: { fill: '#fff', stroke: '#d6d6d6', lineWidth: 3 }
  }],
  series: series
});
</script>
</body>
</html>
